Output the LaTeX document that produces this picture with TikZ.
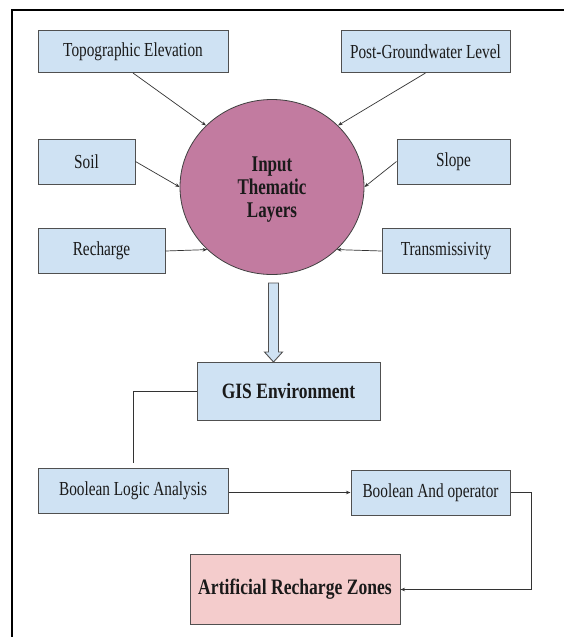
\documentclass[tikz,border=0pt]{standalone}
\usepackage{fontspec}
\setmainfont{Liberation Serif}
\usetikzlibrary{arrows.meta,shapes.geometric,calc}
\definecolor{boxblue}{HTML}{CFE2F3}
\definecolor{boxline}{HTML}{505050}
\definecolor{circfill}{HTML}{C27BA0}
\definecolor{zonefill}{HTML}{F4CCCC}
\definecolor{txt}{HTML}{1A1A1A}
\newcommand{\vstretch}[1]{\scalebox{1}[1.3]{#1}}
\newcommand{\bstretch}[1]{\scalebox{1}[1.25]{#1}}
\begin{document}
\begin{tikzpicture}[x=1pt,y=-1pt,
  bluebox/.style={draw=boxline, line width=1pt, fill=boxblue, inner sep=0pt, text=txt,
     font=\fontsize{15.3}{17}\selectfont},
  conn/.style={draw=black!80, line width=0.7pt},
  arr/.style={conn, -{Stealth[length=4.5pt,width=3.5pt]}}]
\useasboundingbox (0,0) rectangle (564,637);
\fill[white] (0,0) rectangle (564,637);
\draw[line width=2pt] (12,640) -- (12,10) -- (566,10);

\node[bluebox, minimum width=190pt, minimum height=42pt] (topo) at (133,51.5) {\vstretch{Topographic Elevation}};
\node[bluebox, minimum width=169pt, minimum height=42pt] (post) at (425.5,51.5) {\vstretch{Post-Groundwater Level}};
\node[bluebox, minimum width=97pt, minimum height=45pt] (soil) at (86.5,161.5) {\vstretch{Soil}};
\node[bluebox, minimum width=113pt, minimum height=45pt] (slope) at (453.5,161.5) {\vstretch{Slope}};
\node[bluebox, minimum width=127pt, minimum height=45pt] (rech) at (101.5,251) {\vstretch{Recharge}};
\node[bluebox, minimum width=128pt, minimum height=45pt] (trans) at (446,251) {\vstretch{Transmissivity}};

\node[ellipse, draw=black!75, line width=0.8pt, fill=circfill, minimum width=184pt, minimum height=175pt,
  inner sep=0pt, text=txt, font=\bfseries\fontsize{17}{17.5}\selectfont] (circ) at (272,187)
  {\raisebox{-3pt}[\height][\depth]{\scalebox{1}[1.32]{\begin{tabular}{@{}c@{}}Input\\Thematic\\Layers\end{tabular}}}};

\draw[arr] (topo.south) -- (circ.137);
\draw[arr] (post.south) -- (circ.43);
\draw[arr] (soil.east) -- (circ.180);
\draw[arr] (slope.west) -- (circ.0);
\draw[arr] (rech.east) -- (circ.224);
\draw[arr] (trans.west) -- (circ.316);

\node[bluebox, minimum width=183pt, minimum height=58pt, font=\bfseries\fontsize{17.5}{20}\selectfont] (gis) at (288.5,391) {\bstretch{GIS Environment}};

% hollow arrow from circle to GIS box
\draw[draw=boxline, line width=0.9pt, fill=boxblue, line join=miter]
  (268.5,283) -- (278.5,283) -- (278.5,352) -- (282.5,352) -- (273.5,362)
  -- (264.5,352) -- (268.5,352) -- cycle;

\node[bluebox, minimum width=190pt, minimum height=45pt] (bla) at (133,491) {\vstretch{Boolean Logic Analysis}};
\node[bluebox, minimum width=159pt, minimum height=45pt] (bao) at (430.5,492.5) {\vstretch{Boolean And operator}};
\node[draw=boxline, line width=1pt, fill=zonefill, inner sep=0pt, minimum width=210pt, minimum height=70pt,
  text=txt, font=\bfseries\fontsize{17.6}{20}\selectfont] (arz) at (295,589.5) {\bstretch{Artificial Recharge Zones}};

\draw[conn, shorten >=5pt] (gis.west) -| (bla.north);
\draw[arr] (bla.east |- bao.west) -- (bao.west);
\draw[arr] (bao.east) -- ++(21,0) |- (arz.east);
\end{tikzpicture}
\end{document}
